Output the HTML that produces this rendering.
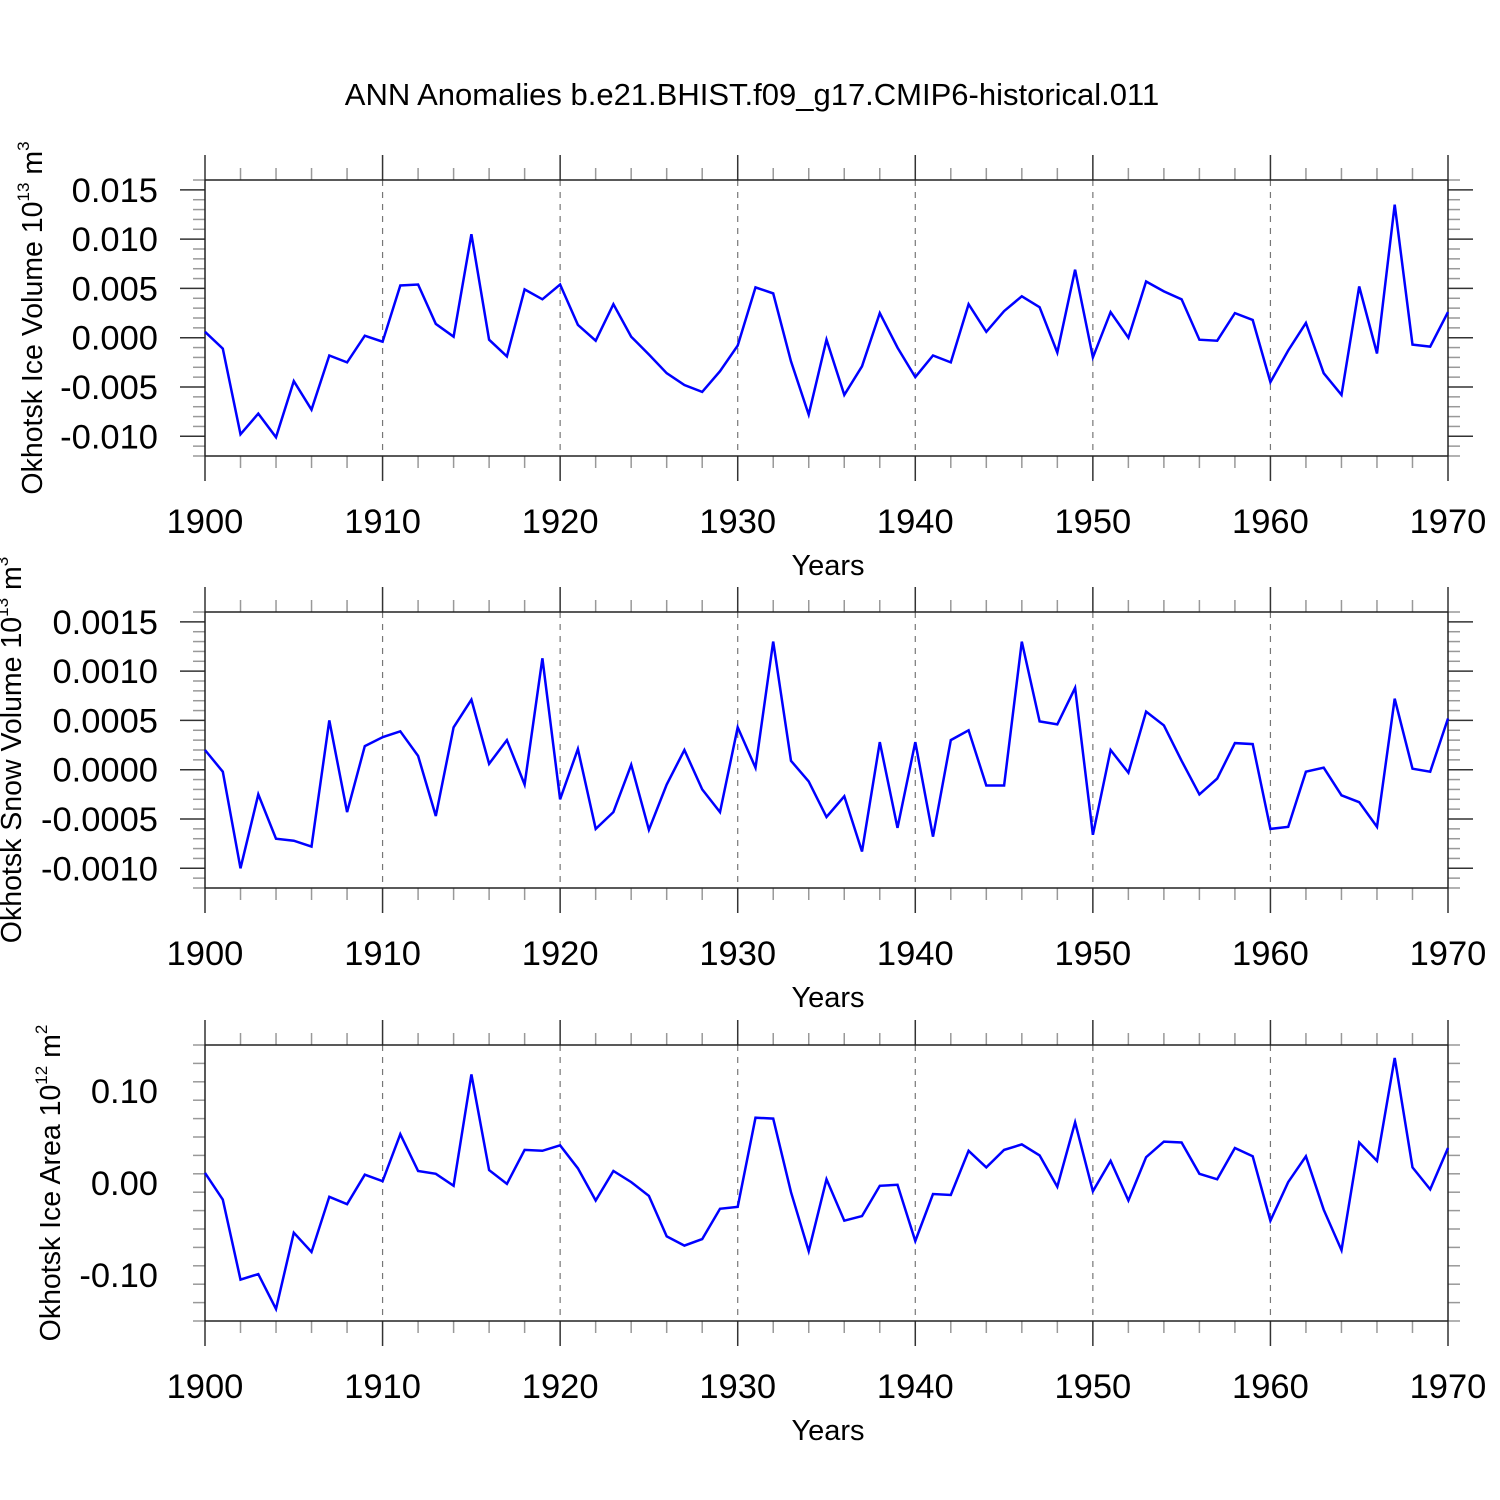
<!DOCTYPE html>
<html><head><meta charset="utf-8"><style>body{margin:0;background:#fff}svg{display:block}text{font-family:"Liberation Sans",sans-serif}</style></head>
<body>
<svg id="c" width="1500" height="1500" xmlns="http://www.w3.org/2000/svg">
<text x="752" y="105" font-size="31" text-anchor="middle">ANN Anomalies b.e21.BHIST.f09_g17.CMIP6-historical.011</text>
</svg>
<script>
const years=[];for(let y=1900;y<=1970;y++)years.push(y);
const iceVolume=[0.0006,-0.0011,-0.0098,-0.0077,-0.0101,-0.0044,-0.0073,-0.0018,-0.0025,0.0002,-0.0004,0.0053,0.0054,0.0014,0.0001,0.0105,-0.0002,-0.0019,0.0049,0.0039,0.0054,0.0013,-0.0003,0.0034,0.0001,-0.0017,-0.0036,-0.0048,-0.0055,-0.0034,-0.0008,0.0051,0.0045,-0.0024,-0.0078,-0.0002,-0.0058,-0.0029,0.0025,-0.0010,-0.0040,-0.0018,-0.0025,0.0034,0.0006,0.0027,0.0042,0.0031,-0.0015,0.0069,-0.0020,0.0026,0.0000,0.0057,0.0047,0.0039,-0.0002,-0.0003,0.0025,0.0018,-0.0045,-0.0013,0.0015,-0.0036,-0.0058,0.0052,-0.0016,0.0135,-0.0007,-0.0009,0.0026];
const snowVolume=[0.0002,-0.00002,-0.0010,-0.00025,-0.0007,-0.00072,-0.00078,0.0005,-0.00043,0.00024,0.00033,0.00039,0.00014,-0.00047,0.00043,0.00071,0.00006,0.0003,-0.00015,0.00113,-0.0003,0.00021,-0.0006,-0.00043,0.00005,-0.00061,-0.00015,0.0002,-0.0002,-0.00043,0.00043,0.00002,0.0013,0.00009,-0.00012,-0.00048,-0.00027,-0.00083,0.00028,-0.00059,0.00028,-0.00068,0.0003,0.0004,-0.00016,-0.00016,0.0013,0.00049,0.00046,0.00083,-0.00066,0.0002,-0.00003,0.00059,0.00045,0.00009,-0.00025,-0.00009,0.00027,0.00026,-0.0006,-0.00058,-0.00002,0.00002,-0.00026,-0.00033,-0.00058,0.00072,0.00001,-0.00002,0.00052];
const iceArea=[0.011,-0.018,-0.105,-0.099,-0.137,-0.054,-0.075,-0.015,-0.023,0.009,0.002,0.053,0.013,0.010,-0.003,0.118,0.014,-0.001,0.036,0.035,0.041,0.016,-0.019,0.013,0.001,-0.014,-0.058,-0.068,-0.061,-0.028,-0.026,0.071,0.070,-0.010,-0.074,0.004,-0.041,-0.036,-0.003,-0.002,-0.063,-0.012,-0.013,0.035,0.017,0.036,0.042,0.030,-0.004,0.066,-0.009,0.024,-0.019,0.028,0.045,0.044,0.010,0.004,0.038,0.029,-0.041,0.001,0.029,-0.029,-0.073,0.044,0.024,0.136,0.017,-0.007,0.038];
const xTicks=[1900,1910,1920,1930,1940,1950,1960,1970];
const ticks1=["0.015","0.010","0.005","0.000","-0.005","-0.010"];
const ticks2=["0.0015","0.0010","0.0005","0.0000","-0.0005","-0.0010"];
const ticks3=["0.10","0.00","-0.10"];
const svg=document.getElementById('c');const NS='http://www.w3.org/2000/svg';
function mk(t,a,p){const e=document.createElementNS(NS,t);for(const k in a)e.setAttribute(k,a[k]);(p||svg).appendChild(e);return e;}
const L=205,R=1448;
const xs=y=>L+(y-1900)*(R-L)/70;
const panels=[
{top:180,bot:456,min:-0.012,max:0.016,minor:0.001,ticks:ticks1,data:iceVolume,title:"Okhotsk Ice Volume 10",sup1:"13",unit:" m",sup2:"3",tx:42,name:"ice-volume"},
{top:612,bot:888,min:-0.0012,max:0.0016,minor:0.0001,ticks:ticks2,data:snowVolume,title:"Okhotsk Snow Volume 10",sup1:"13",unit:" m",sup2:"3",tx:21,name:"snow-volume"},
{top:1045,bot:1321,min:-0.15,max:0.15,minor:0.02,ticks:ticks3,data:iceArea,title:"Okhotsk Ice Area 10",sup1:"12",unit:" m",sup2:"2",tx:60,name:"ice-area"}];
panels.forEach(p=>{
 const g=mk('g',{});
 
 
 const ys=v=>p.bot-(v-p.min)/(p.max-p.min)*(p.bot-p.top);
 xTicks.slice(1,-1).forEach(y=>{const l=mk('line',{x1:xs(y),x2:xs(y),y1:p.top,y2:p.bot,stroke:'#777','stroke-width':1.2,'stroke-dasharray':'6,6'},g);});
 for(let y=1900;y<=1970;y+=2){const maj=(y%10===0);const len=maj?25:12;
  mk('line',{x1:xs(y),x2:xs(y),y1:p.top-len,y2:p.top,stroke:maj?'#333':'#999','stroke-width':1.5},g);
  mk('line',{x1:xs(y),x2:xs(y),y1:p.bot,y2:p.bot+len,stroke:maj?'#333':'#999','stroke-width':1.5},g);}
 xTicks.forEach(y=>{const t=mk('text',{x:xs(y),y:p.bot+77,'font-size':34.5,'text-anchor':'middle'},g);t.textContent=y;});
 const steps=Math.round((p.max-p.min)/p.minor);
 const majStep=(p.ticks.length>1)?(parseFloat(p.ticks[0])-parseFloat(p.ticks[1])):0.1;
 for(let i=0;i<=steps;i++){const v=p.min+i*p.minor;const r=v/majStep;const maj=Math.abs(r-Math.round(r))<1e-6;const len=maj?25:12;
  mk('line',{x1:L-len,x2:L,y1:ys(v),y2:ys(v),stroke:maj?'#333':'#999','stroke-width':1.5},g);
  mk('line',{x1:R,x2:R+len,y1:ys(v),y2:ys(v),stroke:maj?'#333':'#999','stroke-width':1.5},g);}
 p.ticks.forEach(s=>{const t=mk('text',{x:158,y:ys(parseFloat(s))+12,'font-size':34.5,'text-anchor':'end'},g);t.textContent=s;});
 const b=mk('rect',{x:L,y:p.top,width:R-L,height:p.bot-p.top,fill:'none',stroke:'#222','stroke-width':1.5},g);
 
 const pts=p.data.map((v,i)=>xs(years[i]).toFixed(1)+','+ys(v).toFixed(1)).join(' ');
 const pl=mk('polyline',{points:pts,fill:'none',stroke:'#0000ff','stroke-width':2.5,'stroke-linejoin':'miter'},g);
 
 const xt=mk('text',{x:828,y:p.bot+119,'font-size':29,'text-anchor':'middle'},g);xt.textContent='Years';
 
 const cy=(p.top+p.bot)/2;
 const yt=mk('text',{x:0,y:0,'font-size':28.5,'text-anchor':'middle',transform:`translate(${p.tx},${cy}) rotate(-90)`},g);
 
 const a=mk('tspan',{},yt);a.textContent=p.title;
 const b1=mk('tspan',{'font-size':17,dy:-13},yt);b1.textContent=p.sup1;
 const c=mk('tspan',{dy:13},yt);c.textContent=p.unit;
 const d=mk('tspan',{'font-size':17,dy:-13},yt);d.textContent=p.sup2;
});
</script>
</body></html>
